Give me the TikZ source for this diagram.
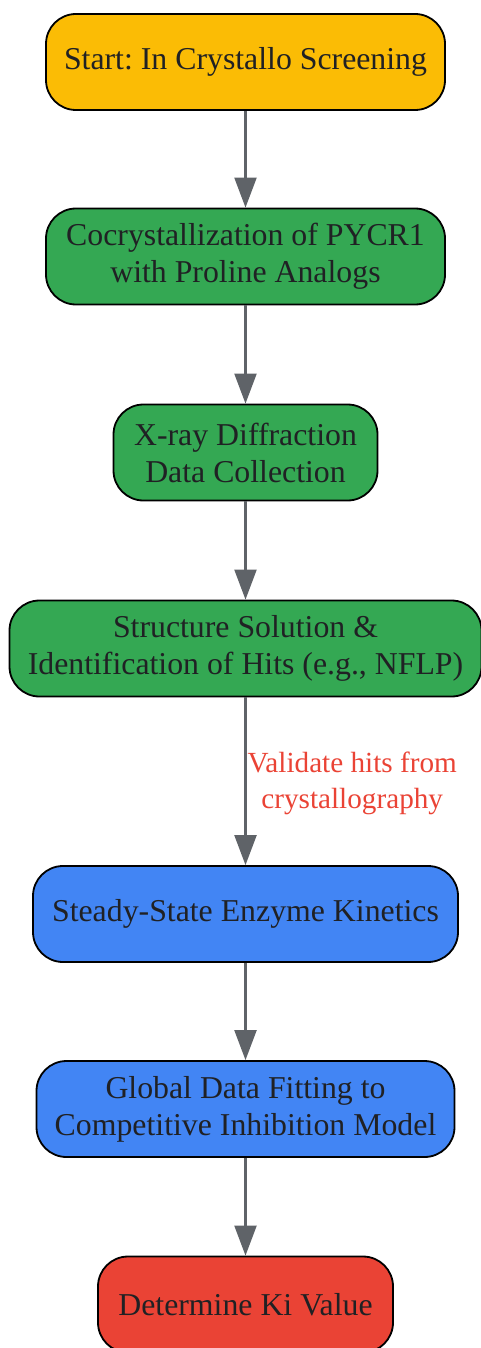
\documentclass[tikz,border=0pt]{standalone}
\usepackage{fontspec}
\setmainfont{Liberation Serif}
\usetikzlibrary{arrows.meta}
\definecolor{gyellow}{HTML}{FBBC05}
\definecolor{ggreen}{HTML}{34A853}
\definecolor{gblue}{HTML}{4285F4}
\definecolor{gred}{HTML}{EA4335}
\definecolor{gtext}{HTML}{202124}
\definecolor{ggray}{HTML}{5F6368}
\frenchspacing
\tikzset{
    block/.style={draw=black, line width=1.8pt, rounded corners=30pt, minimum height=96pt,
      align=center, text=gtext, font=\fontsize{31.8}{37}\selectfont, inner sep=0pt},
    fleche/.style={draw=ggray, line width=2.2pt, -{Triangle[width=22pt,length=30pt]}},
    etiquette/.style={text=gred, align=center, font=\fontsize{29.2}{36}\selectfont, inner sep=1pt},
  }
\begin{document}
\begin{tikzpicture}[x=1pt,y=1pt]
				  \useasboundingbox (0,0) rectangle (480,-1348);
				  
				  %criblage
				  \node[block, fill=gyellow, minimum width=399pt] (depart) at (245.5,-62) {Start: In Crystallo Screening};
				  
				  %cristallographie
				  \node[block, fill=ggreen, minimum width=399pt] (cocrist) at (245.5,-256.5) {Cocrystallization of PYCR1\\with Proline Analogs};
				  \node[block, fill=ggreen, minimum width=264pt] (rayonsx) at (245.5,-452.5) {X-ray Diffraction\\Data Collection};
				  \node[block, fill=ggreen, minimum width=472pt] (hits) at (245.5,-648.5) {Structure Solution \&\\Identification of Hits (e.g., NFLP)};
				  
				  %cinetique
				  \node[block, fill=gblue, minimum width=425pt] (cinetique) at (245.5,-914) {Steady-State Enzyme Kinetics};
				  \node[block, fill=gblue, minimum width=418pt] (ajust) at (245.5,-1109) {Global Data Fitting to\\Competitive Inhibition Model};
				  
				  %Ki
				  \node[block, fill=gred, minimum width=295pt] (ki) at (245.5,-1304.5) {Determine Ki Value};
				  
				  %fleches
				  \draw[fleche] (depart) -- (cocrist);
				  \draw[fleche] (cocrist) -- (rayonsx);
				  \draw[fleche] (rayonsx) -- (hits);
				  \draw[fleche] (hits) -- node[etiquette, right, xshift=0pt, yshift=-2pt]{Validate hits from\\crystallography} (cinetique);
				  \draw[fleche] (cinetique) -- (ajust);
				  \draw[fleche] (ajust) -- (ki);
				  \end{tikzpicture}
\end{document}
